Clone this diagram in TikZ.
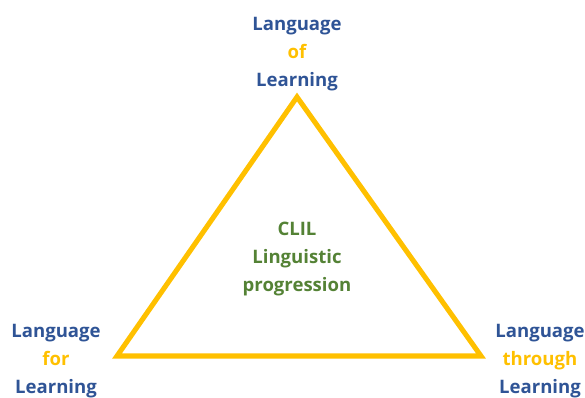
\documentclass[tikz,border=0pt]{standalone}
\usepackage{fontspec}
\setmainfont{Open Sans}
\usepackage{tikz}
\usetikzlibrary{positioning}
\definecolor{clilblue}{RGB}{47,84,150}
\definecolor{clilgold}{RGB}{255,192,0}
\definecolor{clilgreen}{RGB}{84,130,53}
\tikzset{
  lbl/.style={align=center, text=clilblue, inner sep=0pt, font=\bfseries\fontsize{13.2}{19.7}\selectfont},
  midlbl/.style={align=center, text=clilgreen, inner sep=0pt, font=\bfseries\fontsize{13.2}{20.2}\selectfont},
}

\begin{document}
\begin{tikzpicture}[x=0.025cm, y=-0.025cm]
  \useasboundingbox (0,0) rectangle (585,397);

  % --- Triangle corners ---
  \coordinate (T) at (297,97);
  \coordinate (BL) at (117,356);
  \coordinate (BR) at (481,356);

  \draw[clilgold, line width=3.6pt, line join=miter] (T)--(BR)--(BL)--cycle;

  % --- Labels ---
  \node[lbl] (of) at (297,54) {Language\\\textcolor{clilgold}{of}\\Learning};
  \node[lbl] (for) at (56,361) {Language\\\textcolor{clilgold}{for}\\Learning};
  \node[lbl] (through) at (540,361) {Language\\\textcolor{clilgold}{through}\\Learning};

  % Centre
  \node[midlbl] (clil) at (297,259) {CLIL\\Linguistic\\progression};
\end{tikzpicture}
\end{document}
